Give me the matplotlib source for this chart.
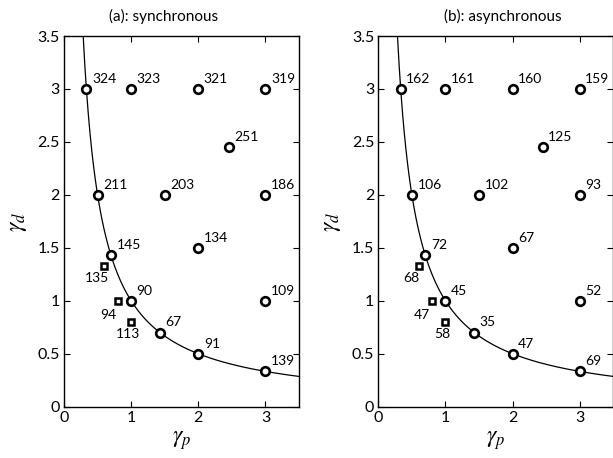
import matplotlib
matplotlib.use('Agg')
import matplotlib.pyplot as plt
import numpy as np

plt.rcParams['font.family'] = ['Lato', 'DejaVu Sans']
plt.rcParams['mathtext.fontset'] = 'stix'

# circle points (gamma_p, gamma_d)
circ_p = [1/3, 1, 2, 3, 2.45, 0.5, 1.5, 3, 0.7, 2, 1, 3, 1.43, 2, 3]
circ_d = [3, 3, 3, 3, 2.45, 2, 2, 2, 1.43, 1.5, 1, 1, 0.7, 0.5, 1/3]
sync_circ = [324, 323, 321, 319, 251, 211, 203, 186, 145, 134, 90, 109, 67, 91, 139]
async_circ = [162, 161, 160, 159, 125, 106, 102, 93, 72, 67, 45, 52, 35, 47, 69]

# square points
sq_p = [0.6, 0.8, 1.0]
sq_d = [1.333, 1.0, 0.8]
sync_sq = [135, 94, 113]
async_sq = [68, 47, 58]

# label offsets (points) for square labels
sq_off = [(-5, -9), (-7, -10), (-2, -9)]

titles = ['(a): synchronous', '(b): asynchronous']
title_x = [164/613, 503/613]

fig = plt.figure(figsize=(6.13, 4.58), dpi=100)
axes = [fig.add_axes([64/613, 51.3/458, 235/613, 370.7/458]),
        fig.add_axes([378.3/613, 51.3/458, 235/613, 370.7/458])]

gp = np.linspace(0.2, 3.6, 400)

for ax, cl, sl, t, tx in zip(axes, [sync_circ, async_circ], [sync_sq, async_sq], titles, title_x):
    ax.plot(gp, 1/gp, color='black', lw=0.9, zorder=1)
    ax.plot(circ_p, circ_d, 'o', mfc='white', mec='black', mew=1.9, ms=6.2, ls='none', zorder=3)
    ax.plot(sq_p, sq_d, 's', mfc='white', mec='black', mew=1.8, ms=4.8, ls='none', zorder=3)
    for x, y, v in zip(circ_p, circ_d, cl):
        ax.annotate(str(v), (x, y), xytext=(4, 3), textcoords='offset points',
                    ha='left', va='bottom', fontsize=10)
    for (x, y, v), (dx, dy) in zip(zip(sq_p, sq_d, sl), sq_off):
        ax.annotate(str(v), (x, y), xytext=(dx, dy), textcoords='offset points',
                    ha='center', va='center', fontsize=10)
    ax.set_xlim(0, 3.5)
    ax.set_ylim(0, 3.5)
    ax.set_xticks([0, 1, 2, 3])
    ax.set_yticks([0, 0.5, 1, 1.5, 2, 2.5, 3, 3.5])
    ax.set_yticklabels(['0', '0.5', '1', '1.5', '2', '2.5', '3', '3.5'])
    ax.tick_params(direction='in', top=True, right=True, labelsize=11.5, length=4, pad=3)
    for s in ax.spines.values():
        s.set_linewidth(1.0)
    ax.set_xlabel(r'$\gamma_p$', fontsize=17, labelpad=3)
    ax.set_ylabel(r'$\gamma_d$', fontsize=17, labelpad=6)
    fig.text(tx, 1 - 16/458, t, ha='center', va='center', fontsize=11)

fig.savefig('out.png', dpi=100)
